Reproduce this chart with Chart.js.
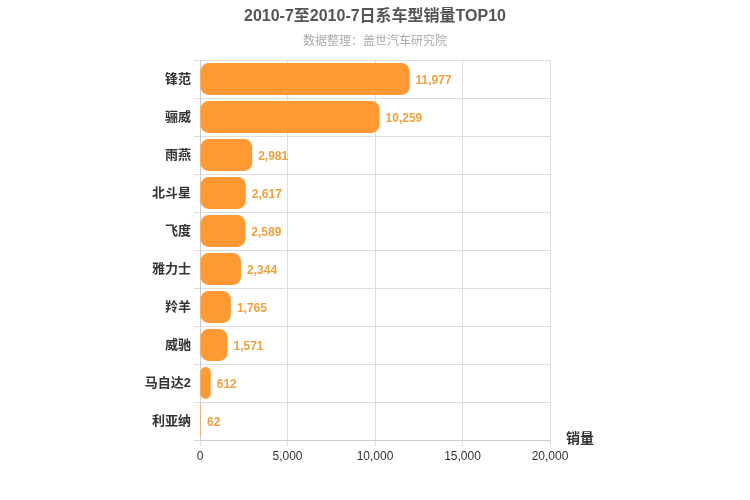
<!DOCTYPE html>
<html><head><meta charset="utf-8">
<script src="https://cdn.jsdelivr.net/npm/chart.js@4"></script>
<style>body{margin:0;background:#fff}#wrap{width:750px;height:500px}</style>
</head><body><div id="wrap"><canvas id="c"></canvas></div>
<script>
const categories = ['锋范','骊威','雨燕','北斗星','飞度','雅力士','羚羊','威驰','马自达2','利亚纳'];
const sales = [11977,10259,2981,2617,2589,2344,1765,1571,612,62];
const xTicks = [0,5000,10000,15000,20000];

const font = '"Liberation Sans", "Noto Sans CJK SC", sans-serif';

const decor = {
  id: 'decor',
  afterDraw(chart) {
    const ctx = chart.ctx, x = chart.scales.x, y = chart.scales.y;
    ctx.save();
    ctx.textAlign = 'center';
    ctx.fillStyle = '#555';
    ctx.font = 'bold 16px ' + font;
    ctx.fillText('2010-7至2010-7日系车型销量TOP10', 375, 21);
    ctx.fillStyle = '#aaa';
    ctx.font = '12px ' + font;
    ctx.fillText('数据整理：盖世汽车研究院', 375, 45);
    ctx.fillStyle = '#333';
    ctx.font = 'bold 14px ' + font;
    ctx.fillText('销量', 580, 443);
    ctx.textAlign = 'left';
    ctx.textBaseline = 'middle';
    ctx.font = 'bold 12px ' + font;
    ctx.fillStyle = '#f0a040';
    chart.getDatasetMeta(0).data.forEach((bar, i) => {
      ctx.fillText(sales[i].toLocaleString('en-US'), bar.x + 6, bar.y + 2);
    });
    ctx.restore();
  }
};

new Chart(document.getElementById('c'), {
  type: 'bar',
  data: { labels: categories, datasets: [{ data: sales, backgroundColor: '#ff9933',
    borderRadius: 8, borderSkipped: false, categoryPercentage: 0.84, barPercentage: 1 }] },
  options: {
    indexAxis: 'y', responsive: true, maintainAspectRatio: false, animation: false,
    layout: { padding: { top: 60, right: 200, left: 0, bottom: 0 } },
    plugins: { legend: { display: false }, tooltip: { enabled: false } },
    scales: {
      x: { min: 0, max: 20000, afterBuildTicks: s => { s.ticks = xTicks.map(v => ({ value: v })); },
        afterFit: s => { s.height = 60; },
        grid: { color: '#ddd', tickLength: 6 }, border: { color: '#ccc' },
        ticks: { color: '#333', font: { family: font, size: 12 }, callback: v => v.toLocaleString('en-US') } },
      y: { afterFit: s => { s.width = 200; },
        grid: { color: '#ddd', offset: true, tickLength: 6 }, border: { color: '#ccc' },
        ticks: { color: '#333', font: { family: font, size: 13, weight: 'bold' } } }
    }
  },
  plugins: [decor]
});
</script></body></html>
